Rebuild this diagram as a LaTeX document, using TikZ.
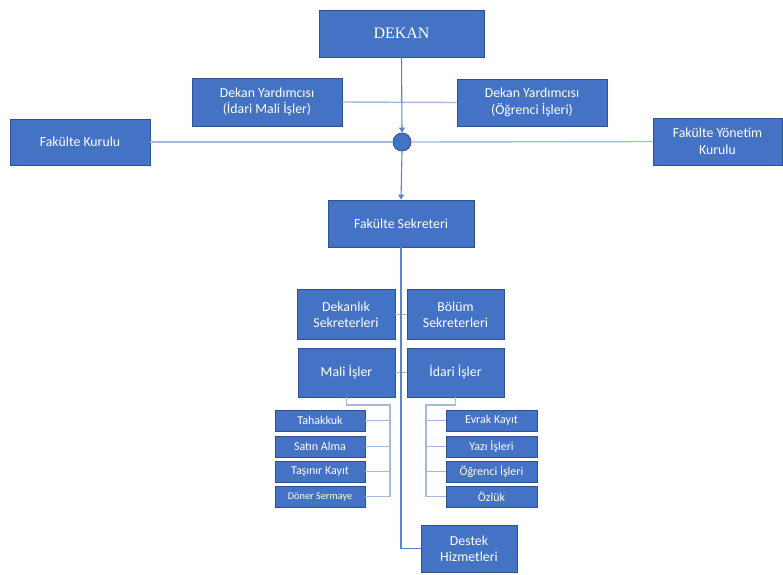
\documentclass[tikz,border=0pt]{standalone}
\usepackage{fontspec}
\setmainfont{Carlito}
\newfontfamily\dekanfont{Liberation Serif}
\usepackage{tikz}
\usetikzlibrary{arrows.meta}
\tikzset{
  unit/.style={draw=boxBorder,line width=0.8pt,fill=boxFill,text=white,inner sep=0pt,
    align=center,font=\fontsize{13.8}{16.5}\selectfont},
  smallunit/.style={unit,minimum height=21pt,font=\fontsize{12}{13}\selectfont},
  mainline/.style={draw=lineColor,line width=1.1pt},
  sideline/.style={draw=sideColor,line width=1.4pt},
  busline/.style={draw=sideColor,line width=1.5pt},
  tip/.style={-{Triangle[width=6pt,length=5pt]}}
}
\begin{document}
\begin{tikzpicture}[x=1pt,y=-1pt]
\definecolor{boxFill}{RGB}{68,114,196}
\definecolor{boxBorder}{RGB}{47,82,143}
\definecolor{lineColor}{RGB}{96,129,200}
\definecolor{sideColor}{RGB}{165,185,220}
\path[use as bounding box,fill=white] (0,0) rectangle (783,574);

% top of the chart
\node[unit,minimum width=165pt,minimum height=47pt,font=\dekanfont\fontsize{16}{18}\selectfont] (dekan) at (401.5, 33.5) {DEKAN};
\node[unit,minimum width=150pt,minimum height=48pt] (dy1) at (267.0,102.0) {Dekan Yardımcısı\\(İdari Mali İşler)};
\node[unit,minimum width=150pt,minimum height=47pt] (dy2) at (532.0,102.5) {Dekan Yardımcısı\\(Öğrenci İşleri)};
\node[unit,minimum width=140pt,minimum height=46pt] (fk) at ( 80.0,142.0) {Fakülte Kurulu};
\node[unit,minimum width=129pt,minimum height=47pt] (fyk) at (717.5,141.5) {Fakülte Yönetim\\Kurulu};
\node[circle,draw=boxBorder,line width=0.8pt,fill=boxFill,minimum size=18pt,inner sep=0pt] (hub) at (402,142) {};
\node[unit,minimum width=146pt,minimum height=47pt] (fs) at (401.0,223.5) {Fakülte Sekreteri};

% middle
\node[unit,minimum width=98pt,minimum height=50pt] (dek) at (346.0,314.5) {Dekanlık\\Sekreterleri};
\node[unit,minimum width=97pt,minimum height=50pt] (bol) at (455.5,314.5) {Bölüm\\Sekreterleri};
\node[unit,minimum width=97pt,minimum height=49pt] (mali) at (346.5,372.5) {Mali İşler};
\node[unit,minimum width=97pt,minimum height=49pt] (idari) at (455.5,372.5) {İdari İşler};

% left units
\node[smallunit,minimum width=90pt] (tah) at (320,420.5) {Tahakkuk};
\node[smallunit,minimum width=90pt] (satin) at (320,446.5) {Satın Alma};
\node[smallunit,minimum width=90pt] (tasinir) at (320,471.5) {Taşınır Kayıt};
\node[smallunit,minimum width=90pt,font=\fontsize{10.3}{11}\selectfont] (doner) at (320,496.5) {Döner Sermaye};

% right units
\node[smallunit,minimum width=91pt] (evrak) at (491.5,420.5) {Evrak Kayıt};
\node[smallunit,minimum width=91pt] (yazi) at (491.5,446.5) {Yazı İşleri};
\node[smallunit,minimum width=91pt] (ogr) at (491.5,471.5) {Öğrenci İşleri};
\node[smallunit,minimum width=91pt] (ozluk) at (491.5,496.5) {Özlük};

\node[unit,minimum width=96pt,minimum height=47pt] (destek) at (469.0,548.5) {Destek\\Hizmetleri};

\coordinate (lbus) at (390,405);
\coordinate (rbus) at (426,405);

% connectors
\draw[sideline] (dy1.east) -- (dy2.west);
\draw[sideline] (fk.east) -- (hub.west);
\draw[sideline] (hub.east) -- (fyk.west);
\draw[sideline] (dek.east) -- (bol.west);
\draw[sideline] (mali.east) -- (idari.west);
\draw[mainline,tip] (dekan.south) -- (hub.north);
\draw[mainline,tip] (hub.south) -- (fs.north);
\draw[mainline] (fs.south) |- (destek.west);

\draw[busline] (mali.south) |- (lbus) -- (lbus |- doner.east);
\foreach \n in {tah,satin,tasinir,doner}
  \draw[busline] (\n.east) -- (\n.east -| lbus);
\draw[busline] (idari.south) |- (rbus) -- (rbus |- ozluk.west);
\foreach \n in {evrak,yazi,ogr,ozluk}
  \draw[busline] (\n.west) -- (\n.west -| rbus);
\end{tikzpicture}
\end{document}
